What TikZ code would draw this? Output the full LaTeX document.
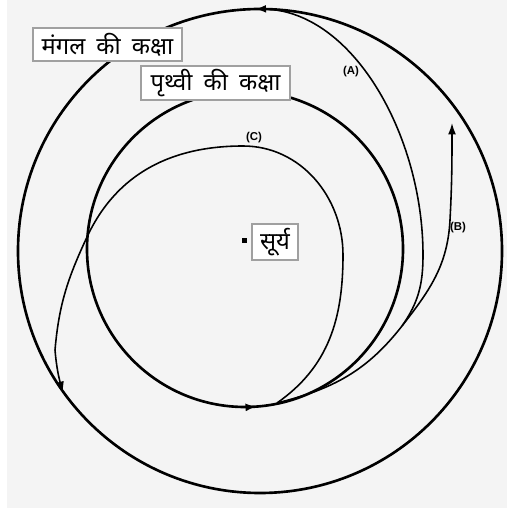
\documentclass[tikz,border=0pt]{standalone}
\usepackage{fontspec}
\usepackage{xcolor}
\usepackage{tikz}
\usetikzlibrary{calc, arrows.meta, decorations.markings}

\newfontfamily\hindi[Script=Devanagari, WordSpace=1.8]{Noto Sans}
\newfontfamily\latin{Liberation Sans}
\definecolor{bggray}{HTML}{F4F4F4}
\definecolor{boxgray}{HTML}{A0A0A0}

\begin{document}
\begin{tikzpicture}[
    x=0.02cm, y=0.02cm,
    orbit/.style={line width=1.5pt, black},
    trj/.style={line width=0.9pt, black},
    tip/.style={-{Latex[length=6.5pt, width=4.5pt]}},
    % labels of the two orbits and the sun
    tag/.style={rectangle, draw=boxgray, line width=1.1pt, fill=white, inner sep=0pt,
                font=\hindi\fontsize{13.5}{16}\selectfont},
    % small bold letters beside the paths
    lb/.style={font=\latin\bfseries\fontsize{6.5}{7}\selectfont, inner sep=0pt}
]
\useasboundingbox (0,0) rectangle (507,510);
\fill[bggray] (7,2) rectangle (507,510);

\coordinate (sun) at (244,269);
\coordinate (earth) at (245,261);
\coordinate (mars) at (260,259);
\coordinate (dep) at (277,107);
\coordinate (split) at (402,184);
\coordinate (arr) at (262,501);

% Orbits
\draw[orbit, postaction={decorate},
      decoration={markings, mark=at position 0.253 with {\arrow{Latex[length=6pt, width=4.5pt]}}}]
    (mars) circle[radius=242];
\draw[orbit, postaction={decorate},
      decoration={markings, mark=at position 0.762 with {\arrow{Latex[length=6.5pt, width=4.5pt]}}}]
    (earth) circle[radius=158];

% (A) and (B) leave together up to the split
\draw[trj] (dep) to[out=14, in=-128] (split);
\draw[trj] (split) to[out=55, in=-90] (423,255) .. controls (423,375) and (352,501) .. (arr);
\draw[trj, tip] (split) to[out=52, in=-93] (450,290) to[out=87, in=-90] (452,387);
% (C)
\draw[trj, tip] (dep) to[out=35, in=-90] (343,255) to[out=90, in=0] (243,364)
    to[out=180, in=65] (87,273) to[out=245, in=85] (55,160) to[out=-85, in=105] (63,117);

% Sun
\fill (sun) ++(-2.5,-2.5) rectangle ++(5,5);
\node[tag, minimum width=0.92cm, minimum height=0.72cm] (sunlbl) at (275,268) {सूर्य};
\node[tag, minimum width=2.98cm, minimum height=0.66cm] (marslbl) at (107.5,465.5) {मंगल की कक्षा};
\node[tag, minimum width=2.98cm, minimum height=0.68cm] (earthlbl) at (215.5,427) {पृथ्वी की कक्षा};

\node[lb] (la) at (351,438) {(A)};
\node[lb] (lbb) at (458,282) {(B)};
\node[lb] (lc) at (254,372) {(C)};
\end{tikzpicture}
\end{document}
